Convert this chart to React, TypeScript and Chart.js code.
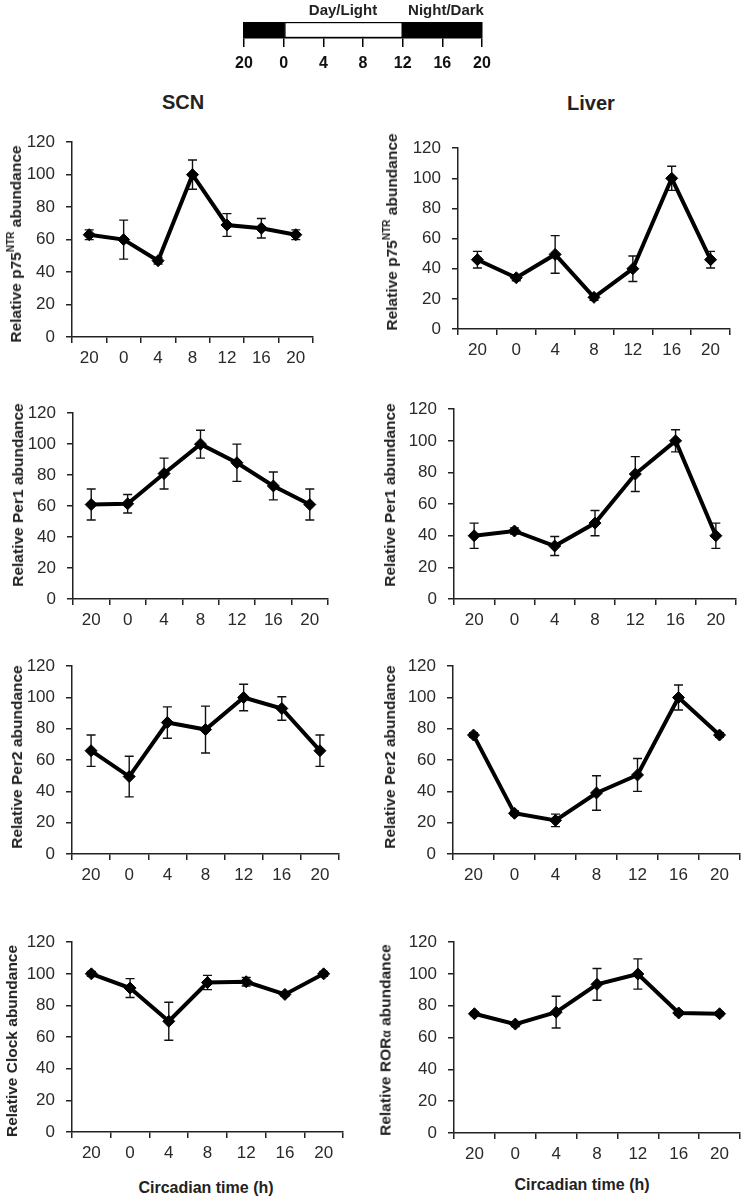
import React, { useEffect, useRef } from 'react';
import { Chart, registerables } from 'chart.js';

Chart.register(...registerables);

const FONT = '"Liberation Sans", Arial, Helvetica, sans-serif';

// ---- data ----
const timeLabels = ['20', '0', '4', '8', '12', '16', '20'];
const barTickLabels = ['20', '0', '4', '8', '12', '16', '20'];
const phaseStart = [-4, 0, 12];
const phaseEnd = [0, 12, 20];
const phaseIsDark = [true, false, true];

const scnP75 = [63, 60, 47, 100, 69, 67, 63];
const scnP75Err = [3, 12, 2, 9, 7, 6, 3];
const liverP75 = [46, 34, 49.5, 21, 40, 100, 46];
const liverP75Err = [5.5, 2, 12.5, 2, 8.5, 8, 5.5];
const scnPer1 = [61, 61.5, 81, 100, 88, 73, 61];
const scnPer1Err = [10, 6, 10, 9, 12, 9, 10];
const liverPer1 = [40, 43, 33.5, 48, 79, 100, 40];
const liverPer1Err = [8, 2, 6, 8, 11, 7, 8];
const scnPer2 = [66, 49.5, 84, 79.5, 100, 93, 66];
const scnPer2Err = [10, 13, 10, 15, 8.5, 7.5, 10];
const liverPer2 = [76, 26, 21.5, 39, 50.5, 100, 76];
const liverPer2Err = [1.5, 1.5, 4, 11, 10.5, 8, 1.5];
const scnClock = [100, 91, 70, 94.5, 95, 87, 100];
const scnClockErr = [1.5, 6, 12, 4.5, 2.7, 1.2, 1.5];
const liverRora = [75, 68.5, 76, 93.5, 100, 75.5, 75];
const liverRoraErr = [1.2, 1.5, 10, 10, 9.5, 1.2, 1.2];

const columnTitles = ['SCN', 'Liver'];
const xAxisTitle = 'Circadian time (h)';
const dayLabel = 'Day/Light';
const nightLabel = 'Night/Dark';

type Seg = { t: string; sup?: boolean; small?: boolean };

type PanelCfg = {
  values: number[];
  errors: number[];
  title: Seg[];
  colLeft: number;
  plotLeft: number;
  plotRight: number;
  plotTop: number;
  plotBottom: number;
  titleX: number;
  titleY: number;
};

const panels: PanelCfg[] = [
  { values: scnP75, errors: scnP75Err, title: [{ t: 'Relative p75' }, { t: 'NTR', sup: true }, { t: ' abundance' }], colLeft: 0, plotLeft: 72, plotRight: 313, plotTop: 133, plotBottom: 337, titleX: 15.5, titleY: 244 },
  { values: liverP75, errors: liverP75Err, title: [{ t: 'Relative p75' }, { t: 'NTR', sup: true }, { t: ' abundance' }], colLeft: 370, plotLeft: 458, plotRight: 730, plotTop: 139, plotBottom: 329, titleX: 392, titleY: 232 },
  { values: scnPer1, errors: scnPer1Err, title: [{ t: 'Relative Per1 abundance' }], colLeft: 0, plotLeft: 73, plotRight: 328, plotTop: 404, plotBottom: 599, titleX: 17.5, titleY: 495 },
  { values: liverPer1, errors: liverPer1Err, title: [{ t: 'Relative Per1 abundance' }], colLeft: 370, plotLeft: 454, plotRight: 736, plotTop: 400, plotBottom: 599, titleX: 390, titleY: 495 },
  { values: scnPer2, errors: scnPer2Err, title: [{ t: 'Relative Per2 abundance' }], colLeft: 0, plotLeft: 72, plotRight: 339, plotTop: 657, plotBottom: 854, titleX: 17, titleY: 757 },
  { values: liverPer2, errors: liverPer2Err, title: [{ t: 'Relative Per2 abundance' }], colLeft: 370, plotLeft: 453, plotRight: 740, plotTop: 657, plotBottom: 854, titleX: 390, titleY: 757 },
  { values: scnClock, errors: scnClockErr, title: [{ t: 'Relative Clock abundance' }], colLeft: 0, plotLeft: 72, plotRight: 343, plotTop: 933, plotBottom: 1132, titleX: 12, titleY: 1041 },
  { values: liverRora, errors: liverRoraErr, title: [{ t: 'Relative ROR' }, { t: 'α', small: true }, { t: ' abundance' }], colLeft: 370, plotLeft: 454, plotRight: 740, plotTop: 933, plotBottom: 1133, titleX: 386, titleY: 1040 },
];

const Y_W = 50;
const X_H = 34;
const PAD_TOP = 12;
const PAD_RIGHT = 8;

const errorBarPlugin = {
  id: 'errorBars',
  beforeDatasetsDraw(chart: any, _args: any, opts: any) {
    const errs: number[] = opts.errors || [];
    const meta = chart.getDatasetMeta(0);
    const ys = chart.scales.y;
    const vals = chart.data.datasets[0].data as number[];
    const ctx = chart.ctx;
    ctx.save();
    ctx.strokeStyle = '#111';
    ctx.lineWidth = 1.4;
    meta.data.forEach((pt: any, i: number) => {
      const e = errs[i];
      if (!e) return;
      const x = pt.x;
      const yTop = ys.getPixelForValue(vals[i] + e);
      const yBot = ys.getPixelForValue(vals[i] - e);
      const cap = 4.5;
      ctx.beginPath();
      ctx.moveTo(x, yTop);
      ctx.lineTo(x, yBot);
      ctx.moveTo(x - cap, yTop);
      ctx.lineTo(x + cap, yTop);
      ctx.moveTo(x - cap, yBot);
      ctx.lineTo(x + cap, yBot);
      ctx.stroke();
    });
    ctx.restore();
  },
};

function Panel({ cfg }: { cfg: PanelCfg }) {
  const ref = useRef<HTMLCanvasElement>(null);
  const left = cfg.colLeft;
  const top = cfg.plotTop - PAD_TOP;
  const width = cfg.plotRight + PAD_RIGHT - left;
  const height = cfg.plotBottom - cfg.plotTop + PAD_TOP + X_H;
  useEffect(() => {
    if (!ref.current) return;
    const chart = new Chart(ref.current, {
      type: 'line',
      data: {
        labels: timeLabels,
        datasets: [
          {
            data: cfg.values,
            borderColor: '#000',
            borderWidth: 4,
            pointStyle: 'rectRot',
            pointRadius: 6,
            pointBackgroundColor: '#000',
            pointBorderColor: '#000',
            pointBorderWidth: 1,
            tension: 0,
            fill: false,
          },
        ],
      },
      options: {
        responsive: false,
        animation: false,
        devicePixelRatio: 1,
        layout: { padding: { left: cfg.plotLeft - left - Y_W, right: PAD_RIGHT, top: PAD_TOP, bottom: 0 } },
        plugins: {
          legend: { display: false },
          tooltip: { enabled: false },
          errorBars: { errors: cfg.errors },
        } as any,
        scales: {
          x: {
            type: 'category',
            offset: true,
            grid: { offset: true, drawOnChartArea: false, drawTicks: true, tickLength: 6, color: '#222', lineWidth: 1.5 },
            border: { display: true, color: '#222', width: 1.5 },
            ticks: { color: '#2a2a2a', font: { family: FONT, size: 17 }, padding: 5, maxRotation: 0, autoSkip: false },
            afterFit: (s: any) => { s.height = X_H; },
          },
          y: {
            min: 0,
            max: 120,
            ticks: { stepSize: 20, color: '#2a2a2a', font: { family: FONT, size: 17 }, padding: 11 },
            grid: { drawOnChartArea: false, drawTicks: true, tickLength: 6, color: '#222', lineWidth: 1.5 },
            border: { display: true, color: '#222', width: 1.5 },
            afterFit: (s: any) => { s.width = Y_W; },
          },
        } as any,
      },
      plugins: [errorBarPlugin],
    });
    return () => chart.destroy();
  }, [cfg]);
  return (
    <>
      <canvas ref={ref} width={width} height={height} style={{ position: 'absolute', left, top, width, height }} />
      <div
        style={{
          position: 'absolute',
          left: cfg.titleX,
          top: cfg.titleY,
          transform: 'translate(-50%, -50%) rotate(-90deg)',
          whiteSpace: 'nowrap',
          fontFamily: FONT,
          fontWeight: 'bold',
          fontSize: 15.5,
          color: '#222',
          lineHeight: '18px',
        }}
      >
        {cfg.title.map((s, i) =>
          s.sup ? (
            <sup key={i} style={{ fontSize: 10, verticalAlign: 'top', lineHeight: '10px', position: 'relative', top: -1 }}>{s.t}</sup>
          ) : s.small ? (
            <span key={i} style={{ fontSize: 12 }}>{s.t}</span>
          ) : (
            <span key={i}>{s.t}</span>
          )
        )}
      </div>
    </>
  );
}

function LightBar() {
  const ref = useRef<HTMLCanvasElement>(null);
  const left = 200;
  const width = 330;
  const height = 80;
  useEffect(() => {
    if (!ref.current) return;
    const chart = new Chart(ref.current, {
      type: 'bar',
      data: {
        labels: ['phase'],
        datasets: phaseStart.map((s, i) => ({
          data: [[s, phaseEnd[i]]] as any,
          backgroundColor: phaseIsDark[i] ? '#000' : '#fff',
          borderColor: '#000',
          borderWidth: phaseIsDark[i] ? 0 : 1.5,
          borderSkipped: false,
          barPercentage: 1,
          categoryPercentage: 1,
          grouped: false,
        })),
      },
      options: {
        indexAxis: 'y',
        responsive: false,
        animation: false,
        devicePixelRatio: 1,
        layout: { padding: { left: 244 - left, right: left + width - 482, top: 22, bottom: 0 } },
        plugins: { legend: { display: false }, tooltip: { enabled: false } },
        scales: {
          x: {
            type: 'linear',
            min: -4,
            max: 20,
            z: 1,
            ticks: {
              stepSize: 4,
              color: '#111',
              font: { family: FONT, size: 16, weight: 'bold' },
              padding: 7,
              callback: (_v: any, i: number) => barTickLabels[i],
            },
            grid: { color: '#000', lineWidth: 1.5, tickLength: 9, drawOnChartArea: true },
            border: { display: true, color: '#000', width: 1.5 },
            afterFit: (s: any) => { s.height = height - 38; },
          },
          y: { display: false },
        } as any,
      },
    });
    return () => chart.destroy();
  }, []);
  return <canvas ref={ref} width={width} height={height} style={{ position: 'absolute', left, top: 0, width, height }} />;
}

const textStyle = (x: number, y: number, size: number): React.CSSProperties => ({
  position: 'absolute',
  left: x,
  top: y,
  transform: 'translate(-50%, -50%)',
  whiteSpace: 'nowrap',
  fontFamily: FONT,
  fontWeight: 'bold',
  fontSize: size,
  color: '#222',
  lineHeight: 1,
});

export default function App() {
  return (
    <div style={{ position: 'absolute', left: 0, top: 0, width: 743, height: 1199, background: '#fff', overflow: 'hidden' }}>
      <LightBar />
      <div style={textStyle(343, 9, 15)}>{dayLabel}</div>
      <div style={textStyle(446, 9, 15)}>{nightLabel}</div>
      <div style={textStyle(183, 102, 20)}>{columnTitles[0]}</div>
      <div style={textStyle(591, 103, 20)}>{columnTitles[1]}</div>
      {panels.map((p, i) => (
        <Panel key={i} cfg={p} />
      ))}
      <div style={textStyle(206, 1188, 16)}>{xAxisTitle}</div>
      <div style={textStyle(582, 1185, 16)}>{xAxisTitle}</div>
    </div>
  );
}
